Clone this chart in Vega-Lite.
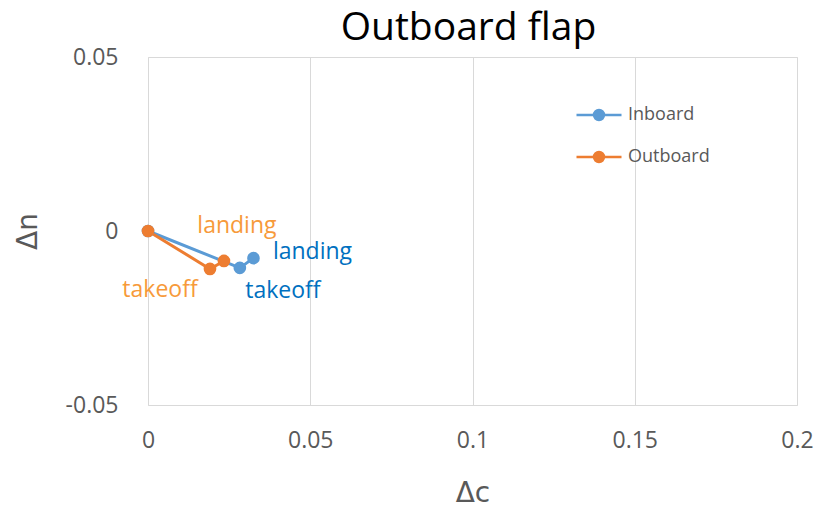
{
  "$schema": "https://vega.github.io/schema/vega-lite/v6.json",
  "width": 649,
  "height": 348,
  "autosize": {"type": "none"},
  "padding": {"left": 148, "top": 57, "right": 34, "bottom": 104},
  "background": "white",
  "config": {"view": {"stroke": "#D9D9D9", "strokeWidth": 1}, "font": "Open Sans"},
  "title": {"text": "Outboard flap", "fontSize": 39, "font": "Open Sans", "fontWeight": "normal", "color": "#000000", "anchor": "middle", "frame": "group", "baseline": "alphabetic", "offset": -33, "dx": -4},
  "data": {"values": [
    {"series": "Inboard", "state": "origin", "dc": 0, "dn": 0, "ord": 0},
    {"series": "Inboard", "state": "takeoff", "dc": 0.0283, "dn": -0.0106, "ord": 1},
    {"series": "Inboard", "state": "landing", "dc": 0.0325, "dn": -0.0078, "ord": 2},
    {"series": "Outboard", "state": "origin", "dc": 0, "dn": 0, "ord": 0},
    {"series": "Outboard", "state": "takeoff", "dc": 0.0191, "dn": -0.0109, "ord": 1},
    {"series": "Outboard", "state": "landing", "dc": 0.0234, "dn": -0.0086, "ord": 2}
  ]},
  "encoding": {
    "x": {"field": "dc", "type": "quantitative", "title": "Δc",
      "scale": {"domain": [0, 0.2], "nice": false, "zero": false},
      "axis": {"values": [0, 0.05, 0.1, 0.15, 0.2], "labelExpr": "toString(datum.value)", "labelFlush": false, "domain": false, "ticks": false, "grid": true, "gridColor": "#D9D9D9", "gridWidth": 1, "labelColor": "#595959", "labelFontSize": 23, "labelFont": "Open Sans", "labelPadding": 24, "titleFont": "DejaVu Sans", "titleFontSize": 28, "titleFontWeight": "normal", "titleColor": "#595959", "titlePadding": 27}},
    "y": {"field": "dn", "type": "quantitative", "title": "Δn",
      "scale": {"domain": [-0.05, 0.05], "nice": false, "zero": false},
      "axis": {"values": [-0.05, 0, 0.05], "labelExpr": "toString(datum.value)", "labelFlush": false, "domain": false, "ticks": false, "grid": false, "labelColor": "#595959", "labelFontSize": 23, "labelFont": "Open Sans", "labelPadding": 30, "titleFont": "DejaVu Sans", "titleFontSize": 28, "titleFontWeight": "normal", "titleColor": "#595959", "titlePadding": 23}}
  },
  "layer": [
    {"mark": {"type": "line", "strokeWidth": 3},
     "encoding": {"color": {"field": "series", "type": "nominal", "scale": {"domain": ["Inboard", "Outboard"], "range": ["#5B9BD5", "#ED7D31"]},
       "legend": {"orient": "none", "legendX": 427, "legendY": 34, "title": null, "symbolType": "M-1,0H1M-0.22,0a0.22,0.22 0 1,0 0.44,0a0.22,0.22 0 1,0 -0.44,0", "symbolSize": 2025, "symbolStrokeWidth": 2.5, "labelFontSize": 18, "labelFont": "Open Sans", "labelColor": "#595959", "rowPadding": 8, "labelOffset": 5}},
       "order": {"field": "ord"}}},
    {"mark": {"type": "point", "filled": true, "size": 160, "opacity": 1},
     "encoding": {"color": {"field": "series", "type": "nominal", "scale": {"domain": ["Inboard", "Outboard"], "range": ["#5B9BD5", "#ED7D31"]},
       "legend": {"orient": "none", "legendX": 427, "legendY": 34, "title": null, "symbolType": "M-1,0H1M-0.22,0a0.22,0.22 0 1,0 0.44,0a0.22,0.22 0 1,0 -0.44,0", "symbolSize": 2025, "symbolStrokeWidth": 2.5, "labelFontSize": 18, "labelFont": "Open Sans", "labelColor": "#595959", "rowPadding": 8, "labelOffset": 5}}}},
    {"transform": [{"filter": "datum.series == 'Outboard' && datum.state == 'landing'"}],
     "mark": {"type": "text", "dx": 13, "dy": -35, "fontSize": 23, "font": "Open Sans", "color": "#F79A3A", "align": "center", "baseline": "middle"},
     "encoding": {"text": {"field": "state"}}},
    {"transform": [{"filter": "datum.series == 'Outboard' && datum.state == 'takeoff'"}],
     "mark": {"type": "text", "dx": -50, "dy": 21, "fontSize": 23, "font": "Open Sans", "color": "#F79A3A", "align": "center", "baseline": "middle"},
     "encoding": {"text": {"field": "state"}}},
    {"transform": [{"filter": "datum.series == 'Inboard' && datum.state == 'landing'"}],
     "mark": {"type": "text", "dx": 59, "dy": -6, "fontSize": 23, "font": "Open Sans", "color": "#0070C0", "align": "center", "baseline": "middle"},
     "encoding": {"text": {"field": "state"}}},
    {"transform": [{"filter": "datum.series == 'Inboard' && datum.state == 'takeoff'"}],
     "mark": {"type": "text", "dx": 43, "dy": 23, "fontSize": 23, "font": "Open Sans", "color": "#0070C0", "align": "center", "baseline": "middle"},
     "encoding": {"text": {"field": "state"}}}
  ]
}
